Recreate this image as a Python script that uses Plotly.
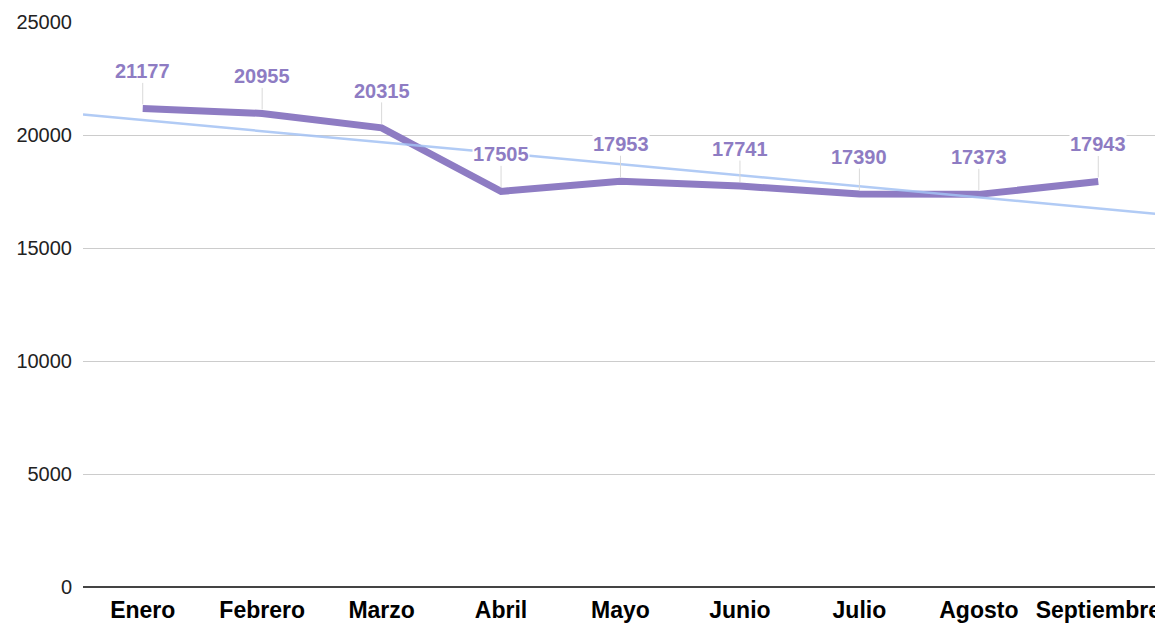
import plotly.graph_objects as go
import numpy as np

months = ["Enero", "Febrero", "Marzo", "Abril", "Mayo", "Junio", "Julio", "Agosto", "Septiembre"]
values = [21177, 20955, 20315, 17505, 17953, 17741, 17390, 17373, 17943]
y_ticks = [0, 5000, 10000, 15000, 20000, 25000]

x = np.arange(len(months))
slope, intercept = np.polyfit(x, values, 1)
tx = np.array([-0.5, len(months) - 0.5])
ty = slope * tx + intercept

purple = "#8e7cc3"
fig = go.Figure()
fig.add_trace(go.Scatter(x=x, y=values, mode="lines",
                         line=dict(color=purple, width=7), hoverinfo="skip"))
fig.add_trace(go.Scatter(x=tx, y=ty, mode="lines",
                         line=dict(color="#a4c2f4", width=2.5), opacity=0.85, hoverinfo="skip"))

for xi, v in zip(x, values):
    fig.add_annotation(x=xi, y=v, text=f"<b>{v}</b>", showarrow=True, arrowhead=0,
                       arrowwidth=1, arrowcolor="#d9d9d9", ax=0, ay=-37, standoff=4,
                       font=dict(family="Arial", size=20, color=purple),
                       bgcolor="white", borderpad=0)

fig.update_layout(
    width=1163, height=623, showlegend=False,
    margin=dict(l=75, r=13, t=14, b=44, autoexpand=False),
    plot_bgcolor="white", paper_bgcolor="white",
    font=dict(family="Arial", color="#222"),
)
fig.update_xaxes(range=[-0.5, len(months) - 0.5], tickvals=list(x),
                 ticktext=[f"<b>{m}</b>" for m in months], automargin=False,
                 tickfont=dict(family="Arial", size=23, color="#000"),
                 showgrid=False, showline=False, zeroline=False, ticks="", ticklabelstandoff=7)
fig.update_yaxes(range=[0, 25000], tickvals=y_ticks, ticktext=[str(t) for t in y_ticks],
                 automargin=False, showgrid=True, gridcolor="#cccccc",
                 gridwidth=1, zeroline=True, zerolinecolor="#444444", zerolinewidth=1.5,
                 tickfont=dict(family="Arial", size=20, color="#222"), ticks="",
                 ticklabelstandoff=10)

fig.write_html("out.html")
